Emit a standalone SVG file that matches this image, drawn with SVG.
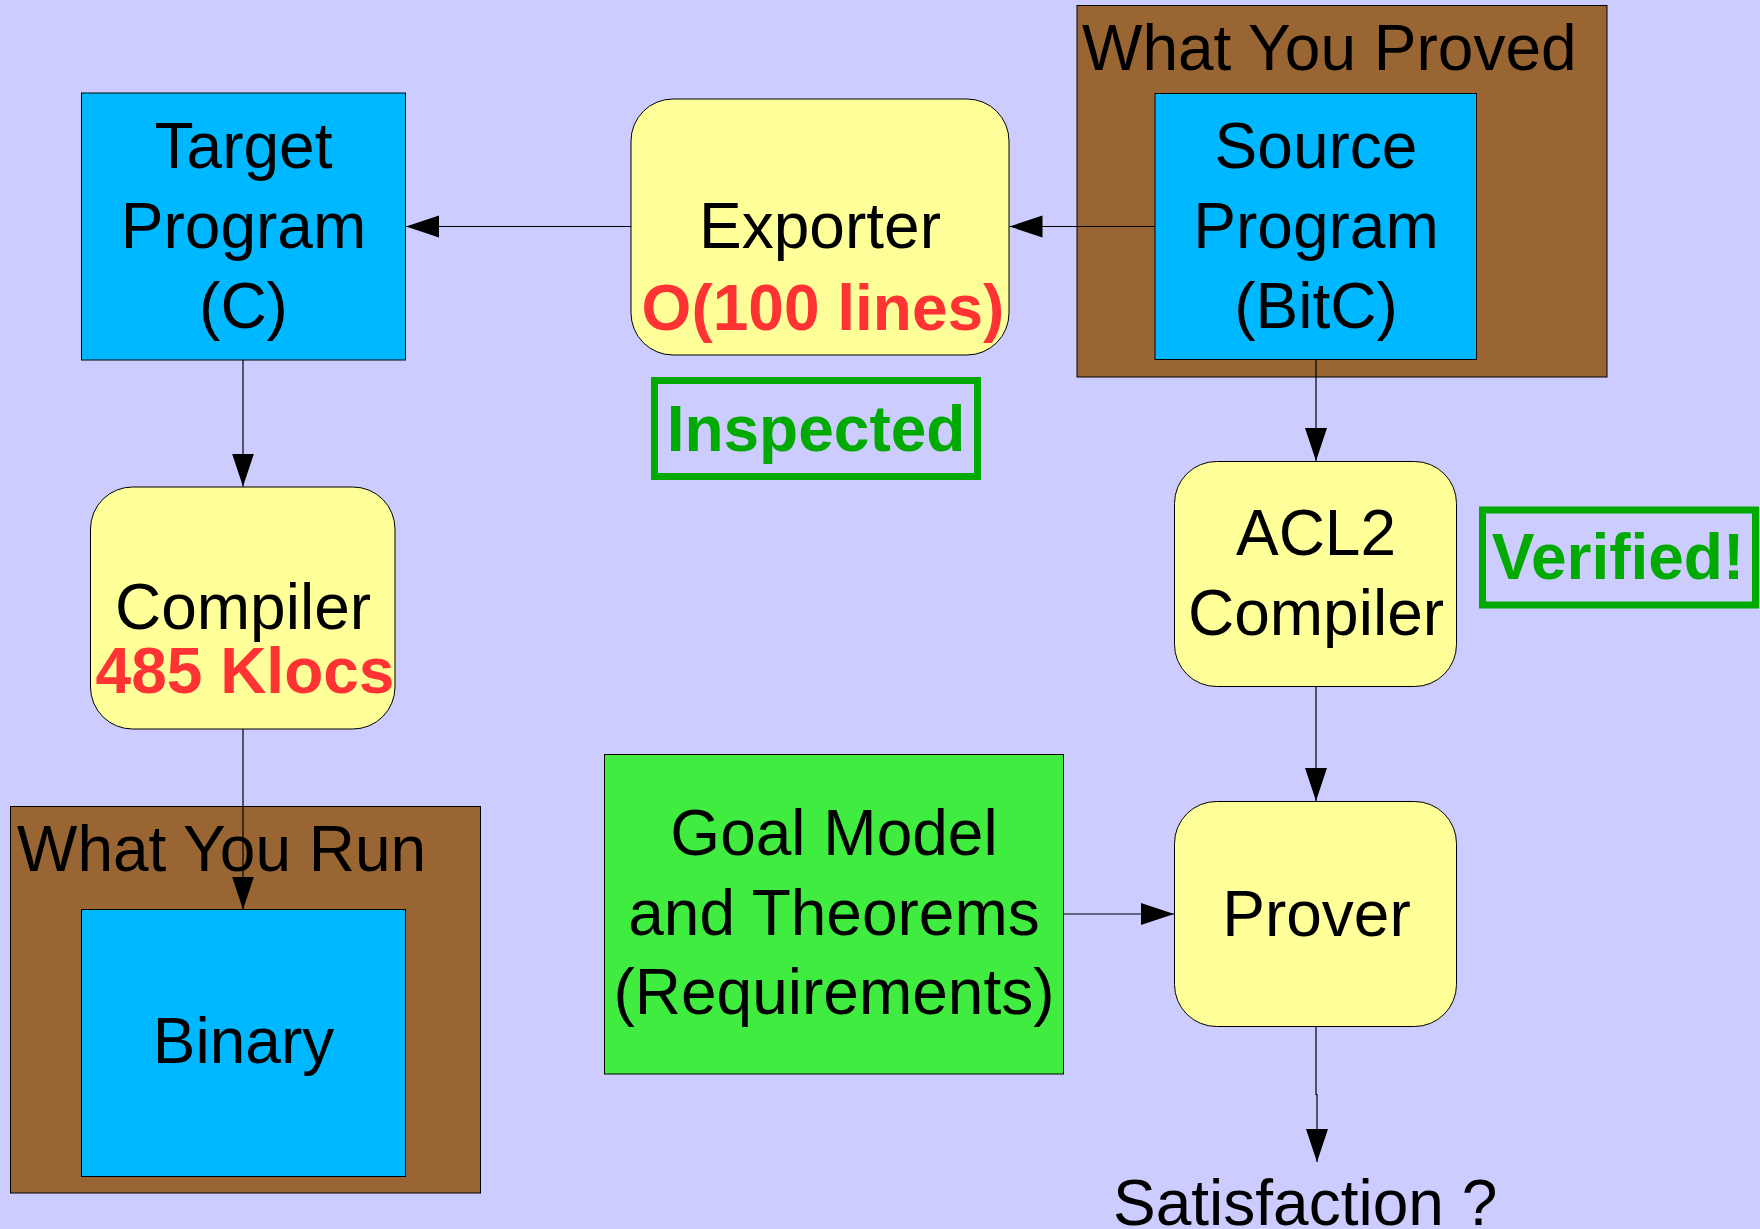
<svg xmlns="http://www.w3.org/2000/svg" width="1760" height="1229" viewBox="0 0 1760 1229">
  <defs>
    <style>
      text { font-family: "Liberation Sans", Arial, sans-serif; font-size: 64px; fill: #000; }
      .c { text-anchor: middle; }
      .red { fill: #ff3333; font-weight: bold; }
      .ok { fill: #00aa00; font-weight: bold; }
      .box { stroke: #000; stroke-width: 1; }
      .blue { fill: #00b8ff; }
      .yellow { fill: #ffff99; }
      .brown { fill: #996633; }
      .goal { fill: #40ec40; }
      .stamp { fill: none; stroke: #00aa00; stroke-width: 7; }
      .wire { fill: none; stroke: #000; stroke-width: 1.2; marker-end: url(#head); }
    </style>
    <marker id="head" markerUnits="userSpaceOnUse" markerWidth="34" markerHeight="24" refX="33" refY="11" orient="auto">
      <path d="M0,0 L33,11 L0,22 z" fill="#000"/>
    </marker>
  </defs>

  <rect x="0" y="0" width="1760" height="1229" fill="#ccccff"/>

  <!-- grouping frames -->
  <g id="what-you-proved">
    <rect class="box brown" x="1077" y="5.5" width="530" height="371.5"/>
    <text x="1082" y="70">What You Proved</text>
  </g>
  <g id="what-you-run">
    <rect class="box brown" x="10.5" y="806.5" width="470" height="386.5"/>
    <text x="17" y="871">What You Run</text>
  </g>

  <!-- nodes -->
  <g id="source-program">
    <rect class="box blue" x="1155" y="93.5" width="321.5" height="266"/>
    <text class="c" x="1316" y="168">Source</text>
    <text class="c" x="1316" y="248">Program</text>
    <text class="c" x="1316" y="328">(BitC)</text>
  </g>

  <g id="exporter">
    <rect class="box yellow" x="631" y="99" width="378" height="256" rx="42" ry="42"/>
    <text class="c" x="820" y="248">Exporter</text>
    <text class="c red" x="823" y="330">O(100 lines)</text>
  </g>

  <g id="inspected">
    <rect class="stamp" x="654.5" y="380.5" width="323" height="96"/>
    <text class="c ok" x="816" y="451">Inspected</text>
  </g>

  <g id="target-program">
    <rect class="box blue" x="81.5" y="93" width="324" height="267"/>
    <text class="c" x="243.5" y="168">Target</text>
    <text class="c" x="243.5" y="248">Program</text>
    <text class="c" x="243.5" y="328">(C)</text>
  </g>

  <g id="compiler">
    <rect class="box yellow" x="90.5" y="487" width="304.5" height="242" rx="42" ry="42"/>
    <text class="c" x="243" y="629">Compiler</text>
    <text class="c red" x="245" y="693">485 Klocs</text>
  </g>

  <g id="binary">
    <rect class="box blue" x="81.5" y="909.5" width="324" height="267"/>
    <text class="c" x="243.5" y="1063">Binary</text>
  </g>

  <g id="acl2-compiler">
    <rect class="box yellow" x="1174.5" y="461.5" width="282" height="225" rx="42" ry="42"/>
    <text class="c" x="1316" y="555">ACL2</text>
    <text class="c" x="1316" y="635">Compiler</text>
  </g>

  <g id="verified">
    <rect class="stamp" x="1482.5" y="510" width="273" height="95"/>
    <text class="c ok" x="1618" y="579">Verified!</text>
  </g>

  <g id="goal-model">
    <rect class="box goal" x="604.5" y="754.5" width="459" height="319.5"/>
    <text class="c" x="834" y="855">Goal Model</text>
    <text class="c" x="834" y="935">and Theorems</text>
    <text class="c" x="834" y="1014">(Requirements)</text>
  </g>

  <g id="prover">
    <rect class="box yellow" x="1174.5" y="801.5" width="282" height="225" rx="42" ry="42"/>
    <text class="c" x="1316.5" y="936">Prover</text>
  </g>

  <g id="satisfaction">
    <text x="1113" y="1225">Satisfaction ?</text>
  </g>

  <!-- connectors -->
  <g id="connectors">
    <path class="wire" d="M1155,226.5 H1009.5"/>
    <path class="wire" d="M631,226.5 H406"/>
    <path class="wire" d="M243,360 V486.5"/>
    <path class="wire" d="M243,729 V909.5"/>
    <path class="wire" d="M1316,359.5 V461"/>
    <path class="wire" d="M1316,686.5 V801"/>
    <path class="wire" d="M1063.5,914 H1174"/>
    <path class="wire" d="M1316,1026.5 V1094.5 H1317 V1162"/>
  </g>
</svg>
